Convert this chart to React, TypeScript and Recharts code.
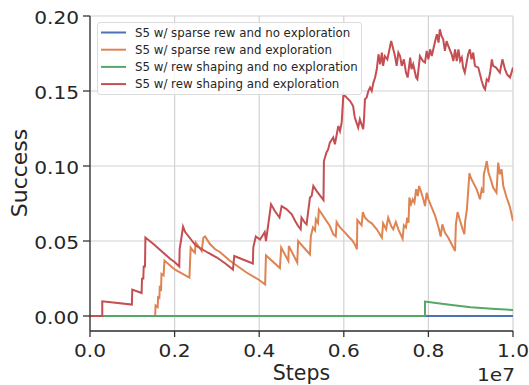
import React from 'react';
import { LineChart, Line, XAxis, YAxis, CartesianGrid, Label } from 'recharts';

// x in units of 1e7 steps, y = success rate
const xTicks = [0, 0.2, 0.4, 0.6, 0.8, 1.0];
const yTicks = [0, 0.05, 0.1, 0.15, 0.2];

const seriesNames = [
  'S5 w/ sparse rew and no exploration',
  'S5 w/ sparse rew and exploration',
  'S5 w/ rew shaping and no exploration',
  'S5 w/ rew shaping and exploration',
];
const seriesColors = ['#4c72b0', '#dd8452', '#55a868', '#c44e52'];

const sparseNoExplore: number[][] = [[0, 0], [1, 0]];

const sparseExplore: number[][] = [
  [0, 0], [0.154, 0], [0.155, 0.007], [0.16, 0.006], [0.161, 0.0125], [0.164, 0.012],
  [0.165, 0.019], [0.168, 0.018], [0.169, 0.028], [0.174, 0.027], [0.176, 0.037],
  [0.2, 0.031], [0.235, 0.0256], [0.238, 0.0456], [0.244, 0.0433], [0.248, 0.0422],
  [0.25, 0.049], [0.256, 0.0467], [0.264, 0.0433], [0.268, 0.0522], [0.272, 0.053],
  [0.284, 0.0478], [0.296, 0.0445], [0.307, 0.0427], [0.33, 0.037], [0.37, 0.029],
  [0.4, 0.024], [0.414, 0.021], [0.416, 0.0404], [0.449, 0.032], [0.452, 0.0456],
  [0.469, 0.0367], [0.47, 0.0467], [0.49, 0.0356], [0.492, 0.05], [0.52, 0.041],
  [0.522, 0.053], [0.527, 0.059], [0.532, 0.057], [0.534, 0.0645], [0.539, 0.062],
  [0.541, 0.071], [0.567, 0.06], [0.575, 0.0545], [0.581, 0.053], [0.583, 0.0627],
  [0.591, 0.059], [0.603, 0.0556], [0.611, 0.053], [0.619, 0.0507], [0.626, 0.0478],
  [0.631, 0.0445], [0.632, 0.064], [0.642, 0.0605], [0.645, 0.0693], [0.65, 0.0656],
  [0.658, 0.0633], [0.666, 0.0618], [0.678, 0.0578], [0.69, 0.0522], [0.693, 0.0618],
  [0.7, 0.0578], [0.705, 0.0656], [0.712, 0.06], [0.717, 0.0578], [0.723, 0.0627],
  [0.729, 0.0578], [0.739, 0.0516], [0.742, 0.0605], [0.747, 0.059], [0.75, 0.0656],
  [0.753, 0.0622], [0.755, 0.079], [0.759, 0.0745], [0.763, 0.0778], [0.767, 0.0756],
  [0.771, 0.0845], [0.775, 0.08], [0.778, 0.0867], [0.782, 0.0833], [0.788, 0.0778],
  [0.792, 0.0733], [0.796, 0.0822], [0.8, 0.0778], [0.808, 0.0723], [0.816, 0.0667],
  [0.824, 0.059], [0.829, 0.053], [0.833, 0.0611], [0.839, 0.0556], [0.847, 0.0522],
  [0.855, 0.0478], [0.863, 0.0433], [0.865, 0.0611], [0.869, 0.0693], [0.875, 0.0633],
  [0.881, 0.0578], [0.885, 0.0545], [0.887, 0.0633], [0.891, 0.0711], [0.893, 0.079],
  [0.897, 0.0951], [0.9, 0.0923], [0.906, 0.0889], [0.914, 0.0845], [0.922, 0.0778],
  [0.926, 0.0845], [0.93, 0.0822], [0.931, 0.0945], [0.934, 0.0978], [0.938, 0.1033],
  [0.942, 0.0956], [0.946, 0.0923], [0.953, 0.0856], [0.961, 0.0822], [0.965, 0.1023],
  [0.969, 0.0945], [0.973, 0.0978], [0.977, 0.0867], [0.985, 0.079], [0.993, 0.0723],
  [1.0, 0.0633],
];

const shapingNoExplore: number[][] = [
  [0, 0], [0.792, 0], [0.792, 0.0096], [0.8, 0.0094], [0.85, 0.0075], [0.875, 0.0067],
  [0.9, 0.0058], [0.95, 0.0048], [1.0, 0.004],
];

const shapingExplore: number[][] = [
  [0, 0], [0.029, 0], [0.029, 0.0098], [0.099, 0.0076], [0.1, 0.0176], [0.122, 0.0153],
  [0.123, 0.0249], [0.126, 0.025], [0.127, 0.033], [0.13, 0.033], [0.131, 0.0523],
  [0.15, 0.048], [0.17, 0.043], [0.19, 0.038], [0.2, 0.036], [0.211, 0.033],
  [0.212, 0.045], [0.215, 0.05], [0.22, 0.0596], [0.225, 0.056], [0.25, 0.047],
  [0.28, 0.042], [0.3, 0.039], [0.32, 0.035], [0.338, 0.031], [0.341, 0.04],
  [0.385, 0.035], [0.386, 0.0456], [0.392, 0.053], [0.402, 0.051], [0.413, 0.056],
  [0.416, 0.05], [0.428, 0.0745], [0.437, 0.07], [0.448, 0.0656], [0.453, 0.0733],
  [0.465, 0.0711], [0.477, 0.0678], [0.485, 0.0633], [0.492, 0.06], [0.498, 0.0578],
  [0.5, 0.0656], [0.508, 0.0622], [0.512, 0.0611], [0.52, 0.079], [0.524, 0.08],
  [0.528, 0.0867], [0.536, 0.0833], [0.552, 0.0773], [0.553, 0.1033], [0.559, 0.109],
  [0.563, 0.111], [0.567, 0.1156], [0.575, 0.119], [0.579, 0.1145], [0.587, 0.1267],
  [0.591, 0.1233], [0.595, 0.129], [0.599, 0.1478], [0.615, 0.1433], [0.622, 0.14],
  [0.626, 0.1323], [0.634, 0.1256], [0.638, 0.1311], [0.646, 0.1245], [0.648, 0.1323],
  [0.65, 0.1445], [0.654, 0.1456], [0.658, 0.15], [0.662, 0.1523], [0.666, 0.15],
  [0.67, 0.1556], [0.674, 0.159], [0.678, 0.1645], [0.682, 0.1745], [0.686, 0.1678],
  [0.69, 0.1756], [0.693, 0.1667], [0.697, 0.1733], [0.703, 0.1711], [0.708, 0.1778],
  [0.712, 0.1833], [0.716, 0.179], [0.721, 0.1733], [0.725, 0.1667], [0.729, 0.1756],
  [0.733, 0.1733], [0.737, 0.1667], [0.742, 0.1711], [0.747, 0.1623], [0.751, 0.159],
  [0.757, 0.1723], [0.76, 0.1645], [0.764, 0.1678], [0.771, 0.159], [0.774, 0.1578],
  [0.78, 0.1733], [0.787, 0.17], [0.792, 0.169], [0.796, 0.1767], [0.8, 0.1711],
  [0.804, 0.1778], [0.808, 0.1733], [0.816, 0.1833], [0.82, 0.1878], [0.824, 0.1823],
  [0.827, 0.1911], [0.831, 0.1867], [0.835, 0.1845], [0.839, 0.1767], [0.843, 0.1833],
  [0.847, 0.18], [0.855, 0.1745], [0.859, 0.17], [0.863, 0.1778], [0.867, 0.17],
  [0.871, 0.1778], [0.875, 0.17], [0.879, 0.1723], [0.882, 0.1656], [0.886, 0.1623],
  [0.891, 0.17], [0.894, 0.1745], [0.898, 0.1778], [0.902, 0.1711], [0.906, 0.1756],
  [0.91, 0.1667], [0.918, 0.1656], [0.922, 0.1611], [0.926, 0.1567], [0.931, 0.1523],
  [0.934, 0.1511], [0.938, 0.1578], [0.942, 0.1567], [0.946, 0.1623], [0.95, 0.1711],
  [0.953, 0.1667], [0.96, 0.1656], [0.969, 0.1623], [0.975, 0.1711], [0.981, 0.1645],
  [0.986, 0.1611], [0.993, 0.159], [1.0, 0.1656],
];

const allSeries = [sparseNoExplore, sparseExplore, shapingNoExplore, shapingExplore];

const toPoints = (arr: number[][]) => arr.map(([x, y]) => ({ x, y }));

const FONT = '"DejaVu Sans", sans-serif';
const TEXT = '#262626';

const XTick = (props: any) => {
  const { x, y, payload } = props;
  return (
    <g transform={`translate(${x},${y + 18}) scale(1.15,1)`}>
      <text x={0} y={0} textAnchor="middle" fontSize={17.5} fontFamily={FONT} fill={TEXT}>
        {Number(payload.value).toFixed(1)}
      </text>
    </g>
  );
};

const YTick = (props: any) => {
  const { x, y, payload } = props;
  return (
    <g transform={`translate(${x},${y + 7.5}) scale(1.15,1)`}>
      <text x={0} y={0} textAnchor="end" fontSize={17.5} fontFamily={FONT} fill={TEXT}>
        {Number(payload.value).toFixed(2)}
      </text>
    </g>
  );
};

const ChartLegend = () => (
  <div
    style={{
      position: 'absolute',
      left: 97,
      top: 22,
      width: 265,
      height: 73,
      boxSizing: 'border-box',
      border: '1px solid #dcdcdc',
      borderRadius: 3,
      background: 'rgba(255,255,255,0.8)',
    }}
  >
    <svg width={265} height={73}>
      {seriesNames.map((name, i) => (
        <g key={name}>
          <line x1={3} x2={28} y1={9.5 + i * 17.2} y2={9.5 + i * 17.2} stroke={seriesColors[i]} strokeWidth={2} />
          <text x={37} y={13.6 + i * 17.2} fontSize={11.8} fontFamily={FONT} fill={TEXT}>
            {name}
          </text>
        </g>
      ))}
    </svg>
  </div>
);

export default function App() {
  return (
    <div style={{ position: 'absolute', left: 0, top: 0, width: 529, height: 385, background: '#fff' }}>
      <LineChart width={529} height={385} margin={{ top: 16, right: 16, bottom: 0, left: 0 }}>
        <CartesianGrid stroke="#d2d2d2" strokeWidth={1.2} />
        <XAxis
          dataKey="x"
          type="number"
          domain={[0, 1]}
          ticks={xTicks}
          height={54}
          tickSize={6}
          tickMargin={2}
          axisLine={{ stroke: '#333', strokeWidth: 1.3 }}
          tickLine={{ stroke: '#333', strokeWidth: 1.3 }}
          tick={<XTick />}
          allowDataOverflow
        >
          <Label
            content={() => (
              <g>
                <text x={301.5} y={380} textAnchor="middle" fontSize={20.5} fontFamily={FONT} fill={TEXT}>
                  Steps
                </text>
                <g transform="translate(515,381) scale(1.12,1)">
                  <text x={0} y={0} textAnchor="end" fontSize={18} fontFamily={FONT} fill={TEXT}>
                    1e7
                  </text>
                </g>
              </g>
            )}
          />
        </XAxis>
        <YAxis
          type="number"
          domain={[-0.01, 0.2]}
          ticks={yTicks}
          width={90}
          tickSize={7}
          tickMargin={4}
          axisLine={{ stroke: '#333', strokeWidth: 1.3 }}
          tickLine={{ stroke: '#333', strokeWidth: 1.3 }}
          tick={<YTick />}
          allowDataOverflow
        >
          <Label
            content={() => (
              <text
                x={27}
                y={173}
                transform="rotate(-90, 27, 173)"
                textAnchor="middle"
                fontSize={22}
                fontFamily={FONT}
                fill={TEXT}
              >
                Success
              </text>
            )}
          />
        </YAxis>
        {allSeries.map((s, i) => (
          <Line
            key={seriesNames[i]}
            data={toPoints(s)}
            dataKey="y"
            type="linear"
            stroke={seriesColors[i]}
            strokeWidth={2}
            dot={false}
            isAnimationActive={false}
          />
        ))}
      </LineChart>
      <ChartLegend />
    </div>
  );
}
